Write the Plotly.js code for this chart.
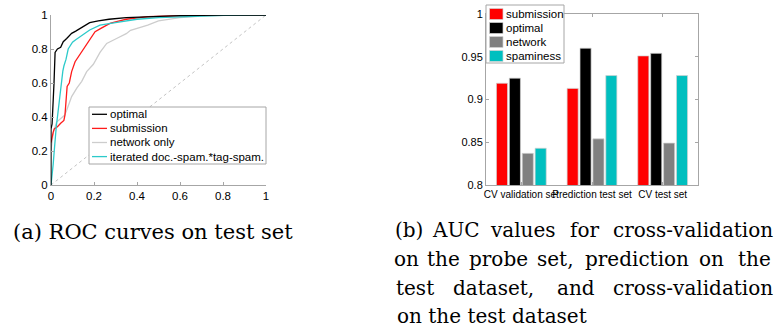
<!DOCTYPE html>
<html>
<head>
<meta charset="utf-8">
<script src="https://cdn.plot.ly/plotly-3.0.1.min.js"></script>
<style>html,body{margin:0;padding:0;background:#fff;}#chart{width:775px;height:327px;}</style>
</head>
<body>
<div id="chart"></div>
<script>
// ROC curves on test set (false positive rate, true positive rate)
const optimalFpr = [0, 0, 0.005, 0.01, 0.014, 0.019, 0.03, 0.045, 0.057, 0.073, 0.096, 0.115, 0.135, 0.155, 0.18, 0.22, 0.27, 0.35, 0.45, 0.6, 0.8, 1];
const optimalTpr = [0, 0.33, 0.36, 0.47, 0.6, 0.78, 0.80, 0.81, 0.843, 0.862, 0.892, 0.905, 0.922, 0.935, 0.955, 0.965, 0.975, 0.985, 0.99, 0.996, 1, 1];

const submissionFpr = [0, 0.005, 0.01, 0.015, 0.03, 0.045, 0.06, 0.065, 0.07, 0.075, 0.085, 0.096, 0.112, 0.125, 0.143, 0.16, 0.174, 0.19, 0.205, 0.23, 0.274, 0.3, 0.35, 0.45, 0.55, 0.7, 1];
const submissionTpr = [0.25, 0.29, 0.31, 0.33, 0.343, 0.363, 0.38, 0.412, 0.5, 0.58, 0.6, 0.667, 0.725, 0.75, 0.784, 0.81, 0.843, 0.87, 0.902, 0.92, 0.951, 0.96, 0.975, 0.99, 0.995, 1, 1];

const networkFpr = [0, 0.005, 0.011, 0.026, 0.045, 0.063, 0.073, 0.096, 0.12, 0.143, 0.166, 0.197, 0.228, 0.259, 0.305, 0.35, 0.37, 0.45, 0.5, 0.6, 0.7, 0.85, 1];
const networkTpr = [0.206, 0.26, 0.31, 0.37, 0.39, 0.41, 0.44, 0.52, 0.57, 0.61, 0.667, 0.71, 0.78, 0.833, 0.862, 0.89, 0.91, 0.94, 0.965, 0.985, 0.993, 1, 1];

const iteratedFpr = [0, 0.005, 0.01, 0.015, 0.02, 0.025, 0.03, 0.035, 0.04, 0.045, 0.05, 0.055, 0.06, 0.07, 0.08, 0.1, 0.115, 0.135, 0.155, 0.18, 0.2, 0.228, 0.3, 0.4, 0.5, 0.6, 0.8, 1];
const iteratedTpr = [0, 0.05, 0.12, 0.2, 0.3, 0.35, 0.4, 0.46, 0.52, 0.58, 0.62, 0.67, 0.70, 0.74, 0.80, 0.84, 0.855, 0.875, 0.89, 0.912, 0.925, 0.94, 0.955, 0.975, 0.985, 0.99, 0.998, 1];

const chanceFpr = [0, 1];
const chanceTpr = [0, 1];

const rocNames = ['optimal', 'submission', 'network only', 'iterated doc.-spam.*tag-spam.'];
const xTickVals = [0, 0.2, 0.4, 0.6, 0.8, 1];
const xTickText = ['0', '0.2', '0.4', '0.6', '0.8', '1'];

// AUC values
const aucCategories = ['CV validation set', 'Prediction test set', 'CV test set'];
const aucNames = ['submission', 'optimal', 'network', 'spaminess'];
const aucSubmission = [0.919, 0.913, 0.951];
const aucOptimal = [0.925, 0.960, 0.954];
const aucNetwork = [0.837, 0.854, 0.849];
const aucSpaminess = [0.843, 0.928, 0.928];
const aucTickVals = [0.8, 0.85, 0.9, 0.95, 1];
const aucTickText = ['0.8', '0.85', '0.9', '0.95', '1'];

const sans = 'Liberation Sans, Arial, sans-serif';
const serif = 'DejaVu Serif, serif';
const axisColor = '#a6a6a6';

const rocColors = ['#000000', '#ff1a1a', '#cdcdcd', '#2ccaca'];
const rocX = [optimalFpr, submissionFpr, networkFpr, iteratedFpr];
const rocY = [optimalTpr, submissionTpr, networkTpr, iteratedTpr];
const drawOrder = [2, 1, 3, 0];

const traces = [
  {x: chanceFpr, y: chanceTpr, mode: 'lines', line: {color: '#c4c4c4', width: 1, dash: 'dot'}, showlegend: false, hoverinfo: 'skip', xaxis: 'x', yaxis: 'y'}
];
drawOrder.forEach(i => {
  traces.push({x: rocX[i], y: rocY[i], name: rocNames[i], mode: 'lines', line: {color: rocColors[i], width: 1.3}, showlegend: false, xaxis: 'x', yaxis: 'y'});
});

const barColors = ['#ff0000', '#000000', '#808080', '#00bfbf'];
const barValues = [aucSubmission, aucOptimal, aucNetwork, aucSpaminess];
aucNames.forEach((n, i) => {
  traces.push({
    type: 'bar', x: aucCategories, y: barValues[i], name: n,
    marker: {color: barColors[i], line: {color: 'rgba(210,210,210,0.9)', width: 0.8}},
    showlegend: false, xaxis: 'x2', yaxis: 'y2'
  });
});

const W = 775, H = 327;
const px = v => v / W;
const py = v => 1 - v / H;

const annotations = [];
const shapes = [];
function cap(text, x, y, anchor, size) {
  annotations.push({text: text, xref: 'paper', yref: 'paper', x: px(x), y: py(y), xanchor: anchor || 'left', yanchor: 'middle', showarrow: false, font: {family: serif, size: size || 20, color: '#000'}});
}
function label(text, x, y) {
  annotations.push({text: text, xref: 'paper', yref: 'paper', x: px(x), y: py(y), xanchor: 'left', yanchor: 'middle', showarrow: false, font: {family: sans, size: 11.5, color: '#000'}});
}

// Legend for ROC panel
shapes.push({type: 'rect', xref: 'paper', yref: 'paper', x0: px(89), x1: px(266), y0: py(107), y1: py(164), line: {color: axisColor, width: 1}, fillcolor: '#fff', layer: 'above'});
rocNames.forEach((n, i) => {
  const yy = 114.3 + i * 14.1;
  shapes.push({type: 'line', xref: 'paper', yref: 'paper', x0: px(92), x1: px(107), y0: py(yy), y1: py(yy), line: {color: rocColors[i], width: 1.3}, layer: 'above'});
  label(n, 107.5, yy);
});

// Legend for AUC panel
shapes.push({type: 'rect', xref: 'paper', yref: 'paper', x0: px(486), x1: px(564), y0: py(5), y1: py(63), line: {color: axisColor, width: 1}, fillcolor: '#fff', layer: 'above'});
aucNames.forEach((n, i) => {
  const yy = 14 + i * 14;
  shapes.push({type: 'rect', xref: 'paper', yref: 'paper', x0: px(489.5), x1: px(503), y0: py(yy - 5.5), y1: py(yy + 5.5), line: {color: 'rgba(210,210,210,0.9)', width: 0.8}, fillcolor: barColors[i], layer: 'above'});
  label(n, 504, yy);
});

// Captions (justified lines placed word by word)
cap('(a) ROC curves on test set', 11, 232, 'left', 21);
const capLines = [
  {y: 230, words: [['(b)', 409], ['AUC', 456], ['values', 522.5], ['for', 584], ['cross-validation', 693]]},
  {y: 259, words: [['on', 406], ['the', 443.5], ['probe', 498.5], ['set,', 555], ['prediction', 636.5], ['on', 711.5], ['the', 754]]},
  {y: 288, words: [['test', 415], ['dataset,', 493.5], ['and', 576], ['cross-validation', 693]]}
];
capLines.forEach(l => l.words.forEach(w => cap(w[0], w[1], l.y, 'center')));
cap('on the test dataset', 395, 316);

const layout = {
  width: W, height: H,
  margin: {l: 0, r: 0, t: 0, b: 0, pad: 0},
  paper_bgcolor: '#fff', plot_bgcolor: '#fff',
  font: {family: sans, size: 11, color: '#000'},
  showlegend: false,
  barmode: 'group', bargap: 0.27, bargroupgap: 0.14,
  xaxis: {domain: [px(51), px(266)], range: [0, 1], tickvals: xTickVals, ticktext: xTickText, ticks: 'inside', ticklen: 3, tickcolor: axisColor, showline: true, linecolor: axisColor, linewidth: 1, showgrid: false, zeroline: false, anchor: 'y', tickfont: {size: 11.5}, tickangle: 0},
  yaxis: {domain: [py(185), py(15)], range: [0, 1], tickvals: xTickVals, ticktext: xTickText, ticks: 'inside', ticklen: 3, tickcolor: axisColor, showline: true, linecolor: axisColor, linewidth: 1, showgrid: false, zeroline: false, anchor: 'x', tickfont: {size: 11.5}},
  xaxis2: {domain: [px(486), px(698)], type: 'category', ticks: 'inside', ticklen: 3, tickcolor: axisColor, showline: true, linecolor: axisColor, linewidth: 1, mirror: 'ticks', showgrid: false, zeroline: false, anchor: 'y2', tickfont: {size: 10}, tickangle: 0},
  yaxis2: {domain: [py(185), py(14)], range: [0.8, 1.0], tickvals: aucTickVals, ticktext: aucTickText, ticks: 'inside', ticklen: 3, tickcolor: axisColor, showline: true, linecolor: axisColor, linewidth: 1, mirror: 'ticks', showgrid: false, zeroline: false, anchor: 'x2', tickfont: {size: 11}},
  shapes: shapes,
  annotations: annotations
};

Plotly.newPlot('chart', traces, layout, {displayModeBar: false, staticPlot: true});
</script>
</body>
</html>
